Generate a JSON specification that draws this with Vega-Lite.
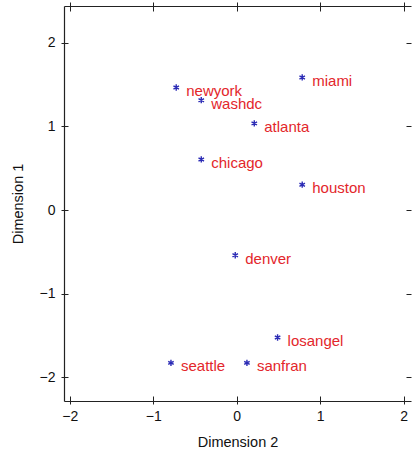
{
  "$schema": "https://vega.github.io/schema/vega-lite/v6.json",
  "width": 347,
  "height": 395,
  "autosize": {"type": "none"},
  "padding": {"left": 64, "top": 6, "right": 1, "bottom": 51},
  "background": "white",
  "config": {
    "view": {"stroke": null},
    "font": "Liberation Sans",
    "axis": {
      "grid": false,
      "domainColor": "#222",
      "tickColor": "#222",
      "labelColor": "#111",
      "titleColor": "#111",
      "labelFont": "Liberation Sans",
      "titleFont": "Liberation Sans",
      "labelFontSize": 14,
      "titleFontSize": 14.5,
      "titleFontWeight": "normal",
      "domainWidth": 1.2,
      "tickWidth": 1
    }
  },
  "data": {
    "values": [
      {"city": "newyork", "dim2": -0.725, "dim1": 1.466},
      {"city": "washdc", "dim2": -0.425, "dim1": 1.314},
      {"city": "miami", "dim2": 0.784, "dim1": 1.586},
      {"city": "atlanta", "dim2": 0.21, "dim1": 1.036},
      {"city": "chicago", "dim2": -0.425, "dim1": 0.605},
      {"city": "houston", "dim2": 0.784, "dim1": 0.303},
      {"city": "denver", "dim2": -0.018, "dim1": -0.541},
      {"city": "losangel", "dim2": 0.489, "dim1": -1.525},
      {"city": "seattle", "dim2": -0.788, "dim1": -1.829},
      {"city": "sanfran", "dim2": 0.122, "dim1": -1.829}
    ]
  },
  "resolve": {"axis": {"x": "independent", "y": "independent"}},
  "layer": [
    {
      "mark": {
        "type": "point",
        "shape": "M0,-1L0,1M-0.87,-0.5L0.87,0.5M-0.87,0.5L0.87,-0.5",
        "filled": false,
        "stroke": "#2b2bb5",
        "strokeWidth": 1.4,
        "size": 40,
        "opacity": 1
      },
      "encoding": {
        "x": {
          "field": "dim2", "type": "quantitative",
          "scale": {"domain": [-2.069, 2.087], "nice": false, "zero": false},
          "axis": {
            "orient": "bottom", "title": "Dimension 2", "values": [-2, -1, 0, 1, 2],
            "tickSize": 3, "labelPadding": 5, "titlePadding": 12, "domain": true
          }
        },
        "y": {
          "field": "dim1", "type": "quantitative",
          "scale": {"domain": [-2.285, 2.441], "nice": false, "zero": false},
          "axis": {
            "orient": "left", "title": "Dimension 1", "values": [-2, -1, 0, 1, 2],
            "tickSize": 3, "labelPadding": 6, "titlePadding": 14, "domain": true
          }
        }
      }
    },
    {
      "mark": {
        "type": "text",
        "align": "left",
        "baseline": "alphabetic",
        "dx": 10,
        "dy": 8.5,
        "fontSize": 15,
        "font": "Liberation Sans",
        "color": "#e3262b"
      },
      "encoding": {
        "x": {
          "field": "dim2", "type": "quantitative",
          "axis": {
            "orient": "bottom", "title": null, "values": [-2, -1, 0, 1, 2],
            "offset": -5, "tickSize": 5, "labels": false, "domain": false
          }
        },
        "y": {
          "field": "dim1", "type": "quantitative",
          "axis": {
            "orient": "left", "title": null, "values": [-2, -1, 0, 1, 2],
            "offset": -4, "tickSize": 4, "labels": false, "domain": false
          }
        },
        "text": {"field": "city"}
      }
    },
    {
      "mark": {"type": "point", "opacity": 0},
      "encoding": {
        "x": {
          "field": "dim2", "type": "quantitative",
          "axis": {
            "orient": "top", "title": null, "values": [-2, -1, 0, 1, 2],
            "tickSize": 4, "labels": false, "domain": true
          }
        },
        "y": {
          "field": "dim1", "type": "quantitative",
          "axis": {
            "orient": "right", "title": null, "values": [-2, -1, 0, 1, 2],
            "offset": -5, "tickSize": 5, "labels": false, "domain": false
          }
        }
      }
    },
    {
      "mark": {"type": "point", "opacity": 0},
      "encoding": {
        "x": {
          "field": "dim2", "type": "quantitative",
          "axis": {
            "orient": "top", "title": null, "values": [-2, -1, 0, 1, 2],
            "offset": -5, "tickSize": 5, "labels": false, "domain": false
          }
        },
        "y": {
          "field": "dim1", "type": "quantitative",
          "axis": null
        }
      }
    }
  ]
}
